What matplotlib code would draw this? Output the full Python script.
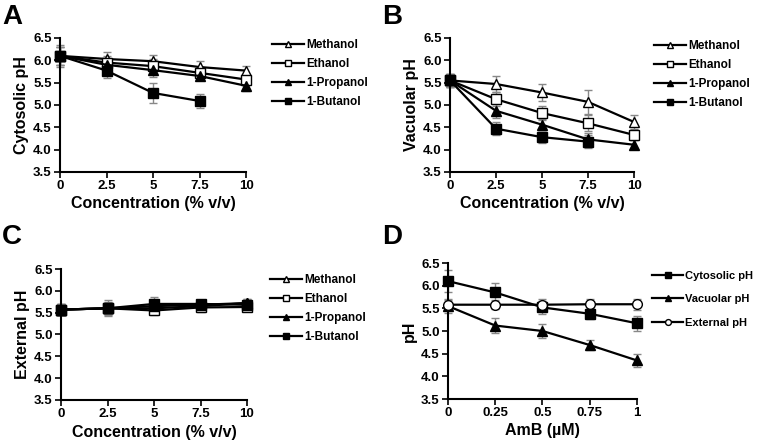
import matplotlib.pyplot as plt

plt.rcParams['font.family'] = ['Liberation Sans', 'DejaVu Sans']
plt.rcParams['font.weight'] = 'bold'

# concentration (% v/v) for panels A-C
conc = [0, 2.5, 5, 7.5, 10]
conc_but = [0, 2.5, 5, 7.5]
amb = [0, 0.25, 0.5, 0.75, 1]

# Panel A - cytosolic pH
a_meth = [6.10, 6.03, 5.98, 5.85, 5.77]
a_meth_err = [0.2, 0.15, 0.15, 0.13, 0.10]
a_eth = [6.10, 5.95, 5.87, 5.72, 5.57]
a_eth_err = [0.2, 0.15, 0.15, 0.12, 0.12]
a_prop = [6.10, 5.90, 5.78, 5.65, 5.43]
a_prop_err = [0.2, 0.15, 0.15, 0.10, 0.12]
a_but = [6.10, 5.77, 5.27, 5.09]
a_but_err = [0.25, 0.17, 0.22, 0.15]

# Panel B - vacuolar pH
b_meth = [5.55, 5.47, 5.28, 5.07, 4.62]
b_meth_err = [0.15, 0.17, 0.18, 0.27, 0.15]
b_eth = [5.55, 5.13, 4.82, 4.59, 4.33]
b_eth_err = [0.15, 0.15, 0.15, 0.18, 0.12]
b_prop = [5.55, 4.87, 4.56, 4.23, 4.11]
b_prop_err = [0.15, 0.15, 0.12, 0.15, 0.10]
b_but = [5.55, 4.47, 4.28, 4.18]
b_but_err = [0.15, 0.15, 0.12, 0.15]

# Panel C - external pH
c_meth = [5.57, 5.60, 5.60, 5.65, 5.72]
c_meth_err = [0.12, 0.18, 0.10, 0.10, 0.10]
c_eth = [5.57, 5.60, 5.55, 5.62, 5.63]
c_eth_err = [0.12, 0.12, 0.10, 0.10, 0.10]
c_prop = [5.57, 5.60, 5.65, 5.68, 5.72]
c_prop_err = [0.12, 0.12, 0.12, 0.10, 0.10]
c_but = [5.57, 5.60, 5.70, 5.70, 5.68]
c_but_err = [0.12, 0.15, 0.17, 0.10, 0.10]

# Panel D - AmB
d_cyt = [6.10, 5.85, 5.52, 5.38, 5.17]
d_cyt_err = [0.25, 0.20, 0.15, 0.12, 0.17]
d_vac = [5.55, 5.12, 5.00, 4.69, 4.35]
d_vac_err = [0.15, 0.16, 0.16, 0.12, 0.14]
d_ext = [5.58, 5.58, 5.58, 5.59, 5.59]
d_ext_err = [0.10, 0.10, 0.12, 0.12, 0.12]

alcohols = ['Methanol', 'Ethanol', '1-Propanol', '1-Butanol']
alc_markers = [('^', 'white'), ('s', 'white'), ('^', 'black'), ('s', 'black')]

fig = plt.figure(figsize=(7.6, 4.42), dpi=100)
W, H = 760.0, 442.0


def make_ax(x0, x1, ytop, ybot):
    return fig.add_axes([x0 / W, 1 - ybot / H, (x1 - x0) / W, (ybot - ytop) / H])


def style(ax, xlim, xticks, xlabels, xlabel, ylabel):
    ax.set_xlim(*xlim)
    ax.set_ylim(3.5, 6.5)
    ax.set_xticks(xticks)
    ax.set_xticklabels(xlabels)
    ax.set_yticks([3.5, 4.0, 4.5, 5.0, 5.5, 6.0, 6.5])
    ax.set_yticklabels(['3.5', '4.0', '4.5', '5.0', '5.5', '6.0', '6.5'])
    ax.spines['top'].set_visible(False)
    ax.spines['right'].set_visible(False)
    ax.spines['left'].set_linewidth(1.5)
    ax.spines['bottom'].set_linewidth(1.5)
    ax.tick_params(direction='out', length=4, width=1.2, labelsize=9.5, pad=2)
    for t in ax.get_xticklabels() + ax.get_yticklabels():
        t.set_fontweight('bold')
    ax.set_xlabel(xlabel, fontsize=11.5, fontweight='bold', labelpad=3)
    ax.set_ylabel(ylabel, fontsize=11.5, fontweight='bold', labelpad=3)


def series(ax, x, y, err, marker, fc, label):
    ax.errorbar(x, y, yerr=err, fmt='none', ecolor='#888888', elinewidth=1,
                capsize=3, capthick=1, clip_on=False, zorder=2)
    ax.plot(x, y, color='black', lw=1.6, marker=marker, mfc=fc, mec='black',
            mew=1, ms=7, label=label, clip_on=False, zorder=3)


def legend(ax, left, top, spacing=0.6, size=8.5, hl=2.7):
    ax.legend(loc='upper left', bbox_to_anchor=(left / W, 1 - top / H),
              bbox_transform=fig.transFigure, frameon=False, borderpad=0,
              borderaxespad=0, handlelength=hl, handletextpad=0.2,
              markerscale=0.6, labelspacing=spacing,
              prop={'weight': 'bold', 'size': size})


conc_labels = ['0', '2.5', '5', '7.5', '10']

# A
axA = make_ax(60, 246, 38, 172)
for (y, e, x), (m, fc), lab in zip([(a_meth, a_meth_err, conc), (a_eth, a_eth_err, conc),
                                    (a_prop, a_prop_err, conc), (a_but, a_but_err, conc_but)],
                                   alc_markers, alcohols):
    series(axA, x, y, e, m, fc, lab)
style(axA, (0, 10), conc, conc_labels, 'Concentration (% v/v)', 'Cytosolic pH')
legend(axA, 272, 39)

# B
axB = make_ax(450, 634, 38, 172)
for (y, e, x), (m, fc), lab in zip([(b_meth, b_meth_err, conc), (b_eth, b_eth_err, conc),
                                    (b_prop, b_prop_err, conc), (b_but, b_but_err, conc_but)],
                                   alc_markers, alcohols):
    series(axB, x, y, e, m, fc, lab)
style(axB, (0, 10), conc, conc_labels, 'Concentration (% v/v)', 'Vacuolar pH')
legend(axB, 654, 40)

# C
axC = make_ax(61, 247, 269, 400)
for (y, e, x), (m, fc), lab in zip([(c_meth, c_meth_err, conc), (c_eth, c_eth_err, conc),
                                    (c_prop, c_prop_err, conc), (c_but, c_but_err, conc)],
                                   alc_markers, alcohols):
    series(axC, x, y, e, m, fc, lab)
style(axC, (0, 10), conc, conc_labels, 'Concentration (% v/v)', 'External pH')
legend(axC, 270, 274)

# D
axD = make_ax(448, 637, 263, 399)
series(axD, amb, d_cyt, d_cyt_err, 's', 'black', 'Cytosolic pH')
series(axD, amb, d_vac, d_vac_err, '^', 'black', 'Vacuolar pH')
series(axD, amb, d_ext, d_ext_err, 'o', 'white', 'External pH')
style(axD, (0, 1), amb, ['0', '0.25', '0.5', '0.75', '1'], 'AmB (µM)', 'pH')
legend(axD, 652, 271, spacing=1.2, size=8, hl=2.8)

# panel letters
for lab, x, y in [('A', 2, 4), ('B', 382, 4), ('C', 2, 224), ('D', 382, 224)]:
    fig.text(x / W, 1 - y / H, lab, fontsize=20, fontweight='bold', va='top', ha='left')

fig.savefig('out.png', dpi=100)
